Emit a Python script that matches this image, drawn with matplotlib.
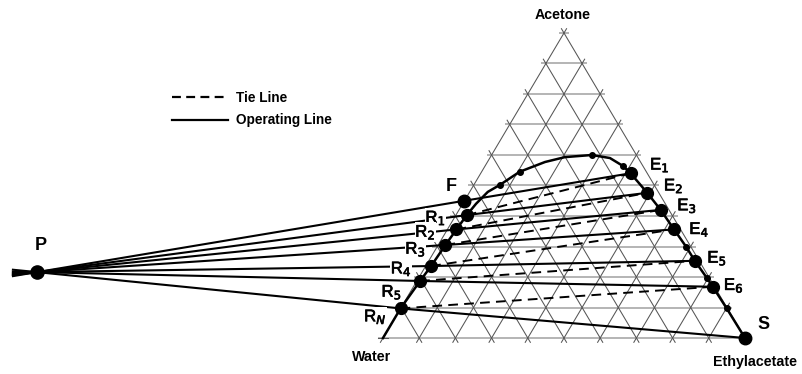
import numpy as np
import matplotlib
matplotlib.use("Agg")
import matplotlib.pyplot as plt
import matplotlib.patheffects as pe
from matplotlib.lines import Line2D
from matplotlib.transforms import IdentityTransform

plt.rcParams['font.family'] = ['Liberation Sans', 'DejaVu Sans']

# Compositions are (acetone, ethylacetate) mass fractions; water is the rest.
feed = (0.45, 0.0)
solvent = (0.0, 1.0)
difference_point = (0.216, -1.064)

raffinate_acetone = [0.403, 0.356, 0.305, 0.236, 0.187, 0.097]
raffinate_ethyl = [0.030, 0.025, 0.020, 0.015, 0.009, 0.000]
raffinate_labels = ['R$_1$', 'R$_2$', 'R$_3$', 'R$_4$', 'R$_5$', 'R$_N$']

extract_acetone = [0.540, 0.476, 0.420, 0.356, 0.253, 0.168]
extract_ethyl = [0.414, 0.492, 0.557, 0.626, 0.735, 0.827]
extract_labels = ['E$_1$', 'E$_2$', 'E$_3$', 'E$_4$', 'E$_5$', 'E$_6$']

# Solubility (binodal) curve, water corner to ethylacetate corner
binodal_acetone = [0.0, 0.097, 0.187, 0.236, 0.305, 0.356, 0.403, 0.440, 0.479,
                   0.502, 0.545, 0.577, 0.593, 0.600, 0.590, 0.564, 0.540, 0.476,
                   0.420, 0.356, 0.299, 0.253, 0.198, 0.168, 0.097, 0.0]
binodal_ethyl = [0.0, 0.0, 0.009, 0.015, 0.020, 0.025, 0.030, 0.037, 0.050,
                 0.072, 0.105, 0.159, 0.206, 0.277, 0.332, 0.381, 0.414, 0.492,
                 0.557, 0.626, 0.688, 0.735, 0.795, 0.827, 0.901, 1.0]

# Measured solubility points shown as small dots
solubility_acetone = [0.502, 0.545, 0.600, 0.564, 0.299, 0.198, 0.097]
solubility_ethyl = [0.072, 0.105, 0.277, 0.381, 0.688, 0.795, 0.901]

corner_labels = ['Water', 'Ethylacetate', 'Acetone']
legend_labels = ['Tie Line', 'Operating Line']

H = np.sqrt(3) / 2


def to_xy(a, b):
    a = np.asarray(a, dtype=float)
    b = np.asarray(b, dtype=float)
    return b + a / 2, a * H


fig = plt.figure(figsize=(8.02, 3.74), dpi=100)
ax = fig.add_axes([0, 0, 1, 1])
ax.set_xlim(-1.058, 1.1575)
ax.set_ylim(-0.1022, 0.9597)
ax.axis('off')

# pixel scale of one data unit, used to extend grid lines past the edges
sx, sy = 362.0, 352.2


def extended(p0, p1, ext_px):
    (x0, y0), (x1, y1) = p0, p1
    L = np.hypot((x1 - x0) * sx, (y1 - y0) * sy)
    if L == 0:
        return [x0 - ext_px / sx, x0 + ext_px / sx], [y0, y0]
    ux, uy = (x1 - x0) / L * ext_px, (y1 - y0) / L * ext_px
    return [x0 - ux, x1 + ux], [y0 - uy, y1 + uy]


ticks = np.linspace(0, 1, 11)
for t in ticks:
    # constant acetone (horizontal)
    xs, ys = extended(to_xy(t, 0), to_xy(t, 1 - t), 5)
    ax.plot(xs, ys, color='#b4b4b4', lw=1.4, zorder=1, solid_capstyle='butt')
for t in ticks:
    # constant ethylacetate
    xs, ys = extended(to_xy(0, t), to_xy(1 - t, t), 5)
    ax.plot(xs, ys, color='#555555', lw=0.75, zorder=1.5)
    # constant water
    xs, ys = extended(to_xy(0, 1 - t), to_xy(1 - t, 0), 5)
    ax.plot(xs, ys, color='#555555', lw=0.75, zorder=1.5)

P = to_xy(*difference_point)
F = to_xy(*feed)
S = to_xy(*solvent)
Rx, Ry = to_xy(raffinate_acetone, raffinate_ethyl)
Ex, Ey = to_xy(extract_acetone, extract_ethyl)

# tie lines R_i - E_i
for i in range(len(Rx)):
    ax.plot([Rx[i], Ex[i]], [Ry[i], Ey[i]], color='black', lw=1.4,
            dashes=(5, 3.2), zorder=3)

# operating lines through the difference point
starts = [F] + list(zip(Rx, Ry))
ends = list(zip(Ex, Ey)) + [S]
for (sx0, sy0), (ex0, ey0) in zip(starts, ends):
    dx = P[0] - sx0
    k = (24 / 362) / abs(dx)
    px_ext = P[0] + dx * k
    py_ext = P[1] + (P[1] - sy0) * k
    ax.plot([px_ext, P[0], sx0, ex0], [py_ext, P[1], sy0, ey0],
            color='black', lw=1.5, zorder=4, solid_joinstyle='miter')

# binodal curve
bx, by = to_xy(binodal_acetone, binodal_ethyl)
ax.plot(bx, by, color='black', lw=1.8, zorder=4)
dx_, dy_ = to_xy(solubility_acetone, solubility_ethyl)
ax.plot(dx_, dy_, 'o', color='black', ms=4, zorder=5)

# stage points
ax.plot(Rx, Ry, 'o', color='black', ms=8.5, zorder=6)
ax.plot(Ex, Ey, 'o', color='black', ms=8.5, zorder=6)
ax.plot([F[0], S[0]], [F[1], S[1]], 'o', color='black', ms=9, zorder=6)
ax.plot([P[0]], [P[1]], 'o', color='black', ms=9.5, zorder=6)

white = dict(boxstyle='square,pad=0.02', fc='white', ec='none')
heavier = [pe.withStroke(linewidth=0.5, foreground='black')]

r_offsets = [(-15, -2), (-15, -2), (-14, -3), (-14, -2), (-13, -8), (-10, -6)]
for x, y, lab, off in zip(Rx, Ry, raffinate_labels, r_offsets):
    ax.annotate(lab, (x, y), xytext=off, textcoords='offset points',
                ha='right', va='center', fontsize=12, zorder=7, bbox=white,
                path_effects=heavier)

e_offsets = [(14, 6), (12, 5), (12, 3), (11, 0), (9, 2), (8, 1)]
for x, y, lab, off in zip(Ex, Ey, extract_labels, e_offsets):
    ax.annotate(lab, (x, y), xytext=off, textcoords='offset points',
                ha='left', va='center', fontsize=12, zorder=7,
                path_effects=heavier)

ax.annotate('F', F, xytext=(-9.5, 10), textcoords='offset points',
            ha='center', va='center', fontsize=13, fontweight='bold', zorder=7)
ax.annotate('P', P, xytext=(3, 19), textcoords='offset points',
            ha='center', va='center', fontsize=13, fontweight='bold', zorder=7)
ax.annotate('S', S, xytext=(13, 9.5), textcoords='offset points',
            ha='center', va='center', fontsize=13, fontweight='bold', zorder=7)

corners = [to_xy(0, 0), to_xy(0, 1), to_xy(1, 0)]
corner_offsets = [(-8, -14), (7, -17), (-1, 13)]
for (x, y), lab, off in zip(corners, corner_labels, corner_offsets):
    ax.annotate(lab, (x, y), xytext=off, textcoords='offset points',
                ha='center', va='center', fontsize=10.3, fontweight='bold')

handles = [Line2D([], [], color='black', lw=1.6, dashes=(4, 2.4)),
           Line2D([], [], color='black', lw=1.6)]
leg = ax.legend(handles, legend_labels, loc='upper left',
                bbox_to_anchor=(172, 374 - 91), bbox_transform=IdentityTransform(),
                frameon=False, prop=dict(size=9.8, weight='bold'),
                handlelength=4.1, handletextpad=0.6, labelspacing=0.62,
                borderpad=0, borderaxespad=0)

fig.savefig('out.png', dpi=100)
